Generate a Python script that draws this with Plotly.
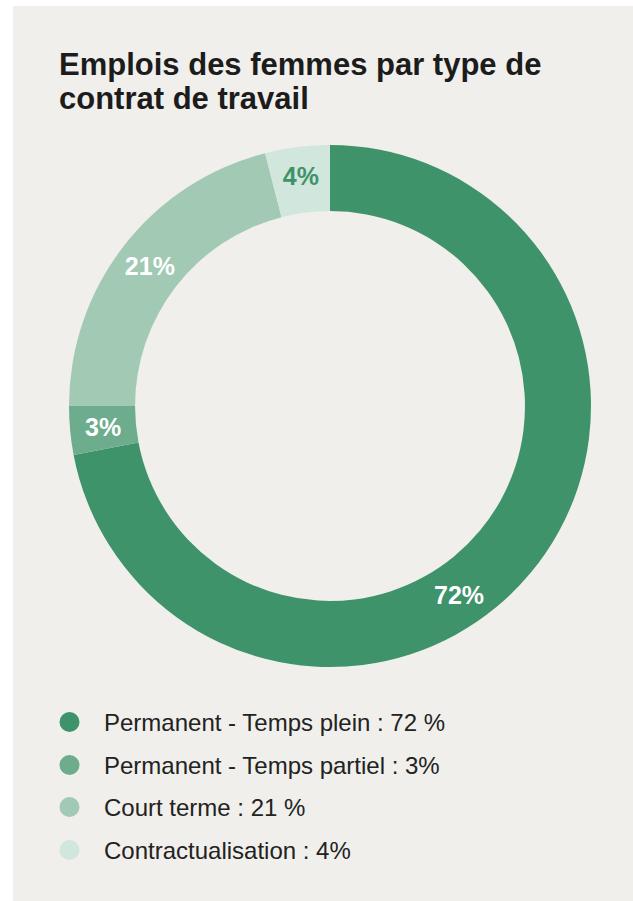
import math
import plotly.graph_objects as go

W, H = 633, 901

labels = ["Permanent - Temps plein", "Permanent - Temps partiel", "Court terme", "Contractualisation"]
values = [72, 3, 21, 4]
legend_texts = ["Permanent - Temps plein : 72 %", "Permanent - Temps partiel : 3%",
                "Court terme : 21 %", "Contractualisation : 4%"]
colors = ["#3e936a", "#6dac8c", "#a1c9b4", "#d1e6dc"]
label_colors = ["#ffffff", "#ffffff", "#ffffff", "#3e936a"]
title_lines = ["Emplois des femmes par type de", "contrat de travail"]

BG = "#f0efeb"
FONT = "Liberation Sans, Arial, Helvetica, sans-serif"

def px(x):
    return x / W

def py(y):
    return 1 - y / H

# pie geometry (pixels)
cx, cy, r_out = 330, 406, 261
hole = 0.747
r_mid = r_out * (1 + hole) / 2

# text shown inside slices by plotly (others placed as annotations)
slice_text = ["", "", f"{values[2]}%", f"{values[3]}%"]

fig = go.Figure()
fig.add_trace(go.Pie(
    labels=labels,
    values=values,
    sort=False,
    direction="clockwise",
    rotation=0,
    hole=hole,
    marker=dict(colors=colors, line=dict(width=0)),
    text=slice_text,
    textinfo="text",
    textposition="inside",
    insidetextorientation="horizontal",
    insidetextfont=dict(family=FONT, size=25, color=label_colors, weight="bold"),
    showlegend=False,
    hoverinfo="label+percent",
    domain=dict(x=[px(cx - r_out), px(cx + r_out)], y=[py(cy + r_out), py(cy - r_out)]),
))

annotations = []
# title
for i, line in enumerate(title_lines):
    annotations.append(dict(
        x=px(57), y=py(65 + i * 33), xref="paper", yref="paper",
        xanchor="left", yanchor="middle", showarrow=False,
        text=f"<b>{line}</b>", font=dict(family=FONT, size=31, color="#1c1c1c"),
    ))

# 72% label (offset along the ring as in the reference)
annotations.append(dict(
    x=px(459), y=py(595), xref="paper", yref="paper",
    xanchor="center", yanchor="middle", showarrow=False,
    text=f"<b>{values[0]}%</b>", font=dict(family=FONT, size=25, color=label_colors[0]),
))

# 3% label at the middle of its slice
total = sum(values)
start = sum(values[:1])
frac_mid = (start + values[1] / 2) / total
theta = 2 * math.pi * frac_mid
lx = cx + r_mid * math.sin(theta)
ly = cy - r_mid * math.cos(theta)
annotations.append(dict(
    x=px(lx), y=py(ly), xref="paper", yref="paper",
    xanchor="center", yanchor="middle", showarrow=False,
    text=f"<b>{values[1]}%</b>", font=dict(family=FONT, size=25, color=label_colors[1]),
))

shapes = [dict(type="rect", xref="paper", yref="paper",
               x0=px(13), x1=1, y0=0, y1=py(6),
               fillcolor=BG, line=dict(width=0), layer="below")]

leg_y = [722, 765, 807, 850]
for i, t in enumerate(legend_texts):
    yc = leg_y[i]
    shapes.append(dict(type="circle", xref="paper", yref="paper",
                       x0=px(59.5), x1=px(79.5), y0=py(yc + 10), y1=py(yc - 10),
                       fillcolor=colors[i], line=dict(width=0), layer="above"))
    annotations.append(dict(
        x=px(102), y=py(yc), xref="paper", yref="paper",
        xanchor="left", yanchor="middle", showarrow=False,
        text=t, font=dict(family=FONT, size=24, color="#222222"),
    ))

fig.update_layout(
    width=W, height=H,
    margin=dict(l=0, r=0, t=0, b=0),
    paper_bgcolor="#ffffff",
    plot_bgcolor="#ffffff",
    shapes=shapes,
    annotations=annotations,
    showlegend=False,
)

fig.write_html("out.html")
